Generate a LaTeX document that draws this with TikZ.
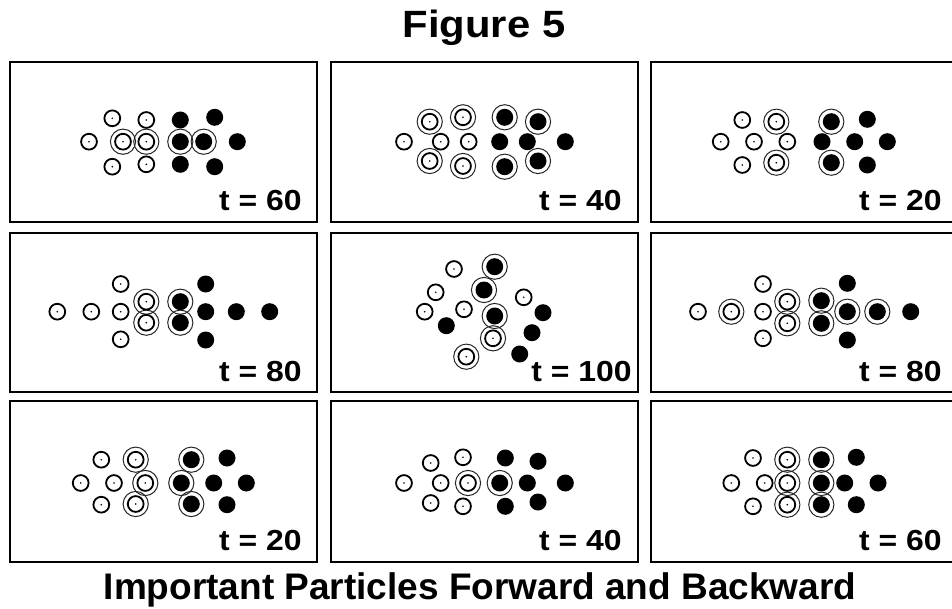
\documentclass[tikz,border=0pt]{standalone}
\usepackage{fontspec}
\setmainfont{Liberation Sans}
\begin{document}
\begin{tikzpicture}[x=0.5pt,y=-0.5pt,
	panelbox/.style={line width=1.35pt},
	ring/.style={line width=0.5pt,black!85},
	hollow/.style={line width=0.9pt,fill=white},
	stamp/.style={font=\bfseries\fontsize{14.5}{16}\selectfont,anchor=base east,inner sep=0pt}]

	\useasboundingbox (0,0) rectangle (952,609);

	% panels

	\draw[panelbox] (10,62) rectangle (317,222);
	\draw[panelbox] (331,62) rectangle (638,222);
	\draw[panelbox] (651,62) rectangle (958,222);
	\draw[panelbox] (10,233) rectangle (317,392);
	\draw[panelbox] (331,233) rectangle (638,392);
	\draw[panelbox] (651,233) rectangle (958,392);
	\draw[panelbox] (10,401) rectangle (317,562);
	\draw[panelbox] (331,401) rectangle (638,562);
	\draw[panelbox] (651,401) rectangle (958,562);

	% rings

	\foreach \x/\y in {123/141.7, 146.3/141.7, 180.3/141.7, 203.7/141.7,
		429.7/121.7, 463/117.3, 429.7/161, 463/166, 504.7/117.3, 538/121.7, 504.7/166.7, 538/161,
		776.3/121.7, 776.3/162.7, 831.3/121.7, 831.3/162.7,
		146.3/301.7, 146.3/322.7, 180.3/301.7, 180.3/322.7,
		493/338.3, 466.3/356.7, 494.7/266.7, 484/290, 494.7/316,
		731.3/311.7, 787.3/301.7, 787.3/323.3, 821.3/300.7, 821.3/323.3, 847.3/311.7, 877.3/311.7,
		135.7/459.7, 145.3/483, 135.7/504, 191.3/459.7, 181.3/483, 191.3/504,
		468/483, 499.7/483,
		787.3/459.7, 787.3/483, 787.3/504.7, 821.3/459.7, 821.3/483, 821.3/504.7}
		\draw[ring] (\x,\y) circle (12.6);

	% open particles

	\foreach \x/\y in {112.3/118.3, 146.3/120, 89/141.7, 123/141.7, 146.3/141.7, 112.3/166.7, 146.3/164.3,
		429.7/121.7, 463/117.3, 404/141.7, 440.7/141.7, 468.7/141.7, 429.7/161, 463/166,
		742.3/120, 776.3/121.7, 720.7/141.7, 754/141.7, 787.3/141.7, 742.3/165, 776.3/162.7,
		57.3/311.7, 91.3/311.7, 120.7/284, 120.7/311.7, 120.7/339.3, 146.3/301.7, 146.3/322.7,
		454/269, 435.7/292.3, 424.7/311.7, 464/309.3, 523.7/297.3, 493/338.3, 466.3/356.7,
		698/311.7, 731.3/311.7, 763/284, 763/311.7, 763/338.3, 787.3/301.7, 787.3/323.3,
		101.3/459.7, 135.7/459.7, 80.7/483, 114/483, 145.3/483, 101.3/504.7, 135.7/504,
		430.7/463, 463/457.3, 404/483, 440.7/483, 468/483, 430.7/503, 463/506.3,
		753/458, 787.3/459.7, 731.3/483, 764.7/483, 787.3/483, 753/506.3, 787.3/504.7}
		{
		\draw[hollow] (\x,\y) circle (7.9);
		\fill (\x,\y) circle (0.9);
		}

	% filled particles

	\foreach \x/\y in {180.3/120, 214.7/117.3, 180.3/141.7, 203.7/141.7, 237.3/141.7, 180.3/164.3, 214.7/166.7,
		504.7/117.3, 538/121.7, 499.7/141.7, 527.3/141.7, 565.3/141.7, 504.7/166.7, 538/161,
		831.3/121.7, 867.3/119.3, 822/141.7, 854.7/141.7, 887.3/141.7, 831.3/162.7, 867.3/165,
		180.3/301.7, 180.3/322.7, 205.7/284, 205.7/311.7, 205.7/340, 236.3/311.7, 269.7/311.7,
		494.7/266.7, 484/290, 494.7/316, 446.3/325.7, 543/312.7, 532/332.7, 519.7/354,
		821.3/300.7, 821.3/323.3, 847.3/283.3, 847.3/311.7, 847.3/340, 877.3/311.7, 910.7/311.7,
		191.3/459.7, 227/458, 181.3/483, 213.7/483, 246.3/483, 191.3/504, 227/504.7,
		505.3/458, 538/461.3, 499.7/483, 527.3/483, 565.3/483, 505.3/506.3, 538/502,
		821.3/459.7, 856.3/457.3, 821.3/483, 844.7/483, 878/483, 821.3/504.7, 856.3/504.7}
		\fill (\x,\y) circle (8.5);

	% labels

	\node[stamp] (t60a) at (302,211) {\scalebox{1.1}[1]{t = 60}};
	\node[stamp] (t40a) at (622,211) {\scalebox{1.1}[1]{t = 40}};
	\node[stamp] (t20a) at (942,211) {\scalebox{1.1}[1]{t = 20}};
	\node[stamp] (t80a) at (302,381) {\scalebox{1.1}[1]{t = 80}};
	\node[stamp] (t100) at (632,381) {\scalebox{1.1}[1]{t = 100}};
	\node[stamp] (t80b) at (942,381) {\scalebox{1.1}[1]{t = 80}};
	\node[stamp] (t20b) at (302,550) {\scalebox{1.1}[1]{t = 20}};
	\node[stamp] (t40b) at (622,550) {\scalebox{1.1}[1]{t = 40}};
	\node[stamp] (t60b) at (942,550) {\scalebox{1.1}[1]{t = 60}};

	\node[anchor=base,inner sep=0pt,font=\bfseries\fontsize{19}{22}\selectfont] (title) at (484,38)
		{\scalebox{1.1}[1]{Figure 5}};
	\node[anchor=base,inner sep=0pt,font=\bfseries\fontsize{18.5}{21}\selectfont] (caption) at (480,599)
		{Important Particles Forward and Backward};

\end{tikzpicture}
\end{document}
